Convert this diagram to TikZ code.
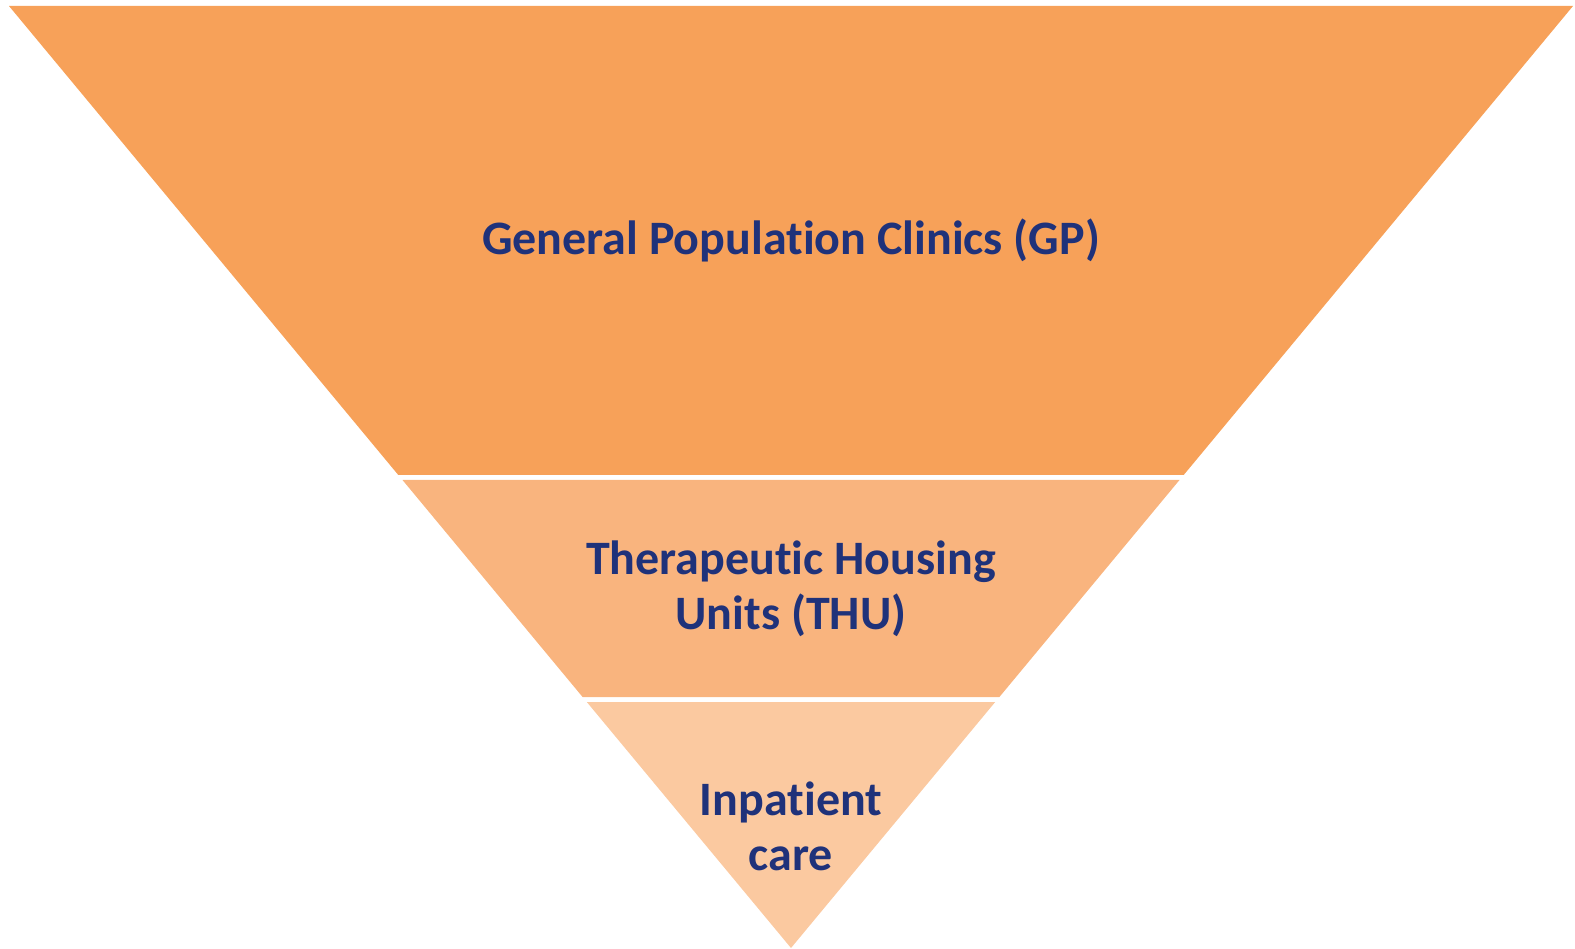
\documentclass[tikz,border=0pt]{standalone}
\usepackage{fontspec}
\setmainfont{Carlito}[Ligatures=NoCommon]
\definecolor{layerA}{RGB}{247,161,89}
\definecolor{layerB}{RGB}{249,180,126}
\definecolor{layerC}{RGB}{251,201,160}
\definecolor{labelblue}{RGB}{31,50,122}
\tikzset{
  label text/.style={text=labelblue, font=\bfseries\fontsize{48}{55}\selectfont, align=center, anchor=base, inner sep=0pt}
}
\begin{document}
\begin{tikzpicture}[x=1pt,y=-1pt]
\useasboundingbox (0,0) rectangle (1575,949);
% layers
\fill[layerA] (9,6) -- (1573,6) -- (1183.7,475) -- (398.3,475) -- cycle;
\fill[layerB] (402.5,480) -- (1179.5,480) -- (999.4,697) -- (582.6,697) -- cycle;
\fill[layerC] (586.8,702) -- (995.2,702) -- (791,948) -- cycle;
% labels (base anchor = baseline of last line)
\node[label text] (gp) at (791,254.5) {General Population Clinics (GP)};
\node[label text] (thu) at (791,629.5) {Therapeutic Housing\\Units (THU)};
\node[label text] (inp) at (791,870) {Inpatient\\care};
\end{tikzpicture}
\end{document}
